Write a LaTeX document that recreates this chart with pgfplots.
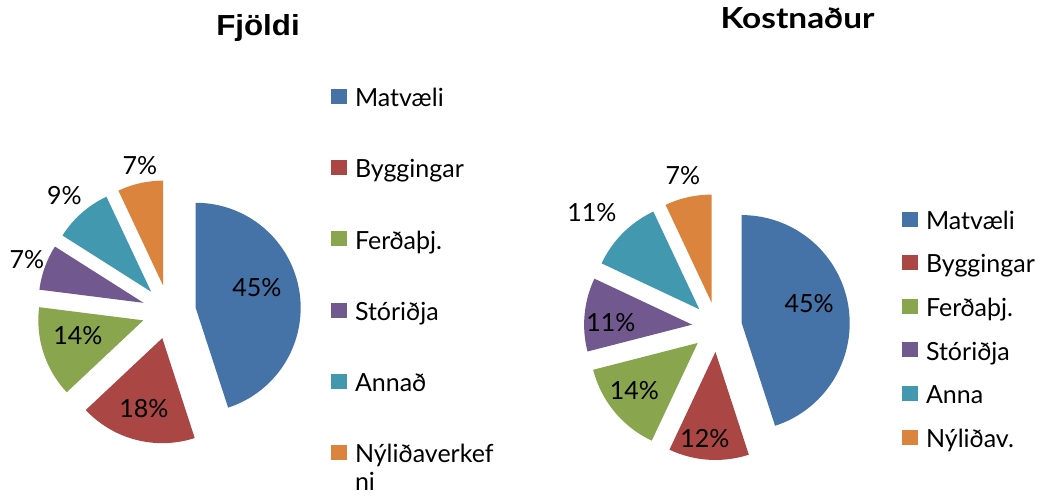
\documentclass[border=0pt]{standalone}
\usepackage{fontspec}
\setmainfont{Lato}
\newfontfamily\arialfont{Liberation Sans}
\usepackage{pgfplots}
\pgfplotsset{compat=1.18}
\usepackage{graphicx}

\definecolor{cBlue}{HTML}{4572A7}
\definecolor{cRed}{HTML}{AA4643}
\definecolor{cGreen}{HTML}{89A54E}
\definecolor{cPurple}{HTML}{71588F}
\definecolor{cTeal}{HTML}{4198AF}
\definecolor{cOrange}{HTML}{DB843D}

\newcommand{\bodyfont}{\fontsize{25}{30}\selectfont}

% slice from cumulative percent #1 to #2, colour #3; centre \cx,\cy radius \pr, explode \pd
\newcommand{\slice}[3]{%
  \pgfmathsetmacro\tA{90-3.6*#2}%
  \pgfmathsetmacro\tB{90-3.6*#1}%
  \pgfmathsetmacro\tM{90-1.8*(#1+#2)}%
  \pgfmathsetmacro\vx{\cx+\pd*cos(\tM)}%
  \pgfmathsetmacro\vy{\cy+\pd*sin(\tM)}%
  \edef\tmp{\noexpand\addplot[fill=#3, draw=none, domain=\tA:\tB, samples=80]
    ({\vx+\pr*cos(x)},{\vy+\pr*sin(x)}) -- (axis cs:\vx,\vy) -- cycle;}%
  \tmp
}

\pgfplotsset{
  pieaxis/.style={
    width=1038pt, height=495pt, scale only axis,
    xmin=0, xmax=1038, ymin=0, ymax=495,
    hide axis, clip=false,
    legend image code/.code={\fill[##1] (0pt,2.7pt) rectangle (16pt,17.7pt);},
    legend style={draw=none, fill=none, inner sep=0pt, outer sep=0pt,
      column sep=8pt, font=\bodyfont, anchor=north west,
      nodes={inner sep=0pt, text height=20pt, text depth=6pt, anchor=base west}},
  },
}
\tikzset{lab/.style={font=\bodyfont, inner sep=0pt, anchor=base}}

\begin{document}
\begin{tikzpicture}
% ---------- Fjoldi ----------
\begin{axis}[pieaxis, legend style={at={(0.3189,0.8248)}, row sep=45.2pt}]
\def\cx{169}\def\cy{183}\def\pr{105}\def\pd{27}
\slice{0}{45}{cBlue}\addlegendentry{Matvæli}
\slice{45}{63}{cRed}\addlegendentry{Byggingar}
\slice{63}{77}{cGreen}\addlegendentry{Ferðaþj.}
\slice{77}{84}{cPurple}\addlegendentry{Stóriðja}
\slice{84}{93}{cTeal}\addlegendentry{Annað}
\slice{93}{100}{cOrange}\addlegendentry{\begin{tabular}[t]{@{}l@{}}Nýliðaverkef\\[-2pt]ni\end{tabular}}
\node[lab] at (axis cs:257,198) {45\%};
\node[lab] at (axis cs:144,77) {18\%};
\node[lab] at (axis cs:78,150) {14\%};
\node[lab] at (axis cs:27,226) {7\%};
\node[lab] at (axis cs:64.5,290) {9\%};
\node[lab] at (axis cs:140,320) {7\%};
\node[anchor=base, inner sep=0pt, font=\arialfont\bfseries\fontsize{29}{34}\selectfont] at (axis cs:258,459) {\scalebox{1.08}[1]{Fjöldi}};
\end{axis}
% ---------- Kostnadur ----------
\begin{axis}[pieaxis, legend style={at={(0.869,0.5772)}, row sep=17.6pt}]
\def\cx{717}\def\cy{168}\def\pr{108}\def\pd{25}
\slice{0}{45}{cBlue}\addlegendentry{Matvæli}
\slice{45}{57}{cRed}\addlegendentry{Byggingar}
\slice{57}{71}{cGreen}\addlegendentry{Ferðaþj.}
\slice{71}{82}{cPurple}\addlegendentry{Stóriðja}
\slice{82}{93}{cTeal}\addlegendentry{Anna}
\slice{93}{100}{cOrange}\addlegendentry{Nýliðav.}
\node[lab] at (axis cs:809,182) {45\%};
\node[lab] at (axis cs:705,47) {12\%};
\node[lab] at (axis cs:634.5,95) {14\%};
\node[lab] at (axis cs:611,163) {11\%};
\node[lab] at (axis cs:592,273) {11\%};
\node[lab] at (axis cs:683,310) {7\%};
\node[anchor=base, inner sep=0pt, font=\bfseries\fontsize{29}{34}\selectfont] at (axis cs:797.5,466) {\scalebox{1.15}[1]{Kostnaður}};
\end{axis}
\pgfresetboundingbox
\path[use as bounding box] (current axis.south west) rectangle (current axis.north east);
\end{tikzpicture}
\end{document}
